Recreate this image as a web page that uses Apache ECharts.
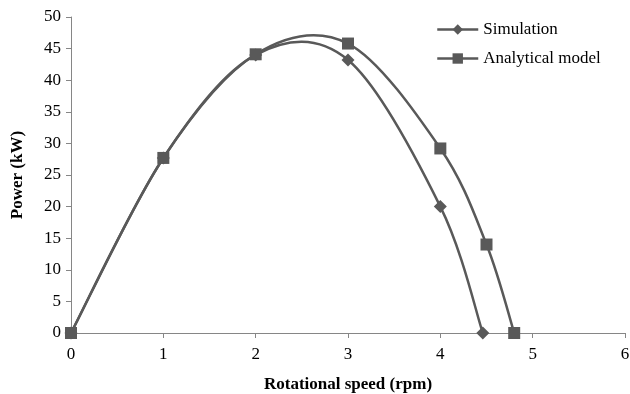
<!DOCTYPE html>
<html><head><meta charset="utf-8">
<script src="https://cdn.jsdelivr.net/npm/echarts@6/dist/echarts.min.js"></script>
<style>html,body{margin:0;padding:0;background:#fff}#c{width:630px;height:394px}</style>
</head><body><div id="c"></div>
<script>
const simX = [0, 1, 2, 3, 4, 4.46];
const simY = [0, 27.7, 44.0, 43.2, 20.0, 0];
const anaX = [0, 1, 2, 3, 4, 4.5, 4.8];
const anaY = [0, 27.7, 44.1, 45.8, 29.2, 14.0, 0];
const xTicks = [0, 1, 2, 3, 4, 5, 6];
const yTicks = [0, 5, 10, 15, 20, 25, 30, 35, 40, 45, 50];

const font = 'Liberation Serif, Times New Roman, serif';
const col = '#595959';

// Excel-like smoothed line (Catmull-Rom through the data points, converted by the chart's own scales)
function smoothPath(xs, ys) {
  return function (params, api) {
    if (params.dataIndex !== 0) return null;
    const p = xs.map((x, i) => api.coord([x, ys[i]]));
    const n = p.length;
    let d = 'M' + p[0][0] + ' ' + p[0][1];
    for (let i = 0; i < n - 1; i++) {
      const p0 = p[Math.max(i - 1, 0)], p1 = p[i], p2 = p[i + 1], p3 = p[Math.min(i + 2, n - 1)];
      const t = 6;
      const c1 = [p1[0] + (p2[0] - p0[0]) / t, p1[1] + (p2[1] - p0[1]) / t];
      const c2 = [p2[0] - (p3[0] - p1[0]) / t, p2[1] - (p3[1] - p1[1]) / t];
      d += ' C' + c1[0] + ' ' + c1[1] + ' ' + c2[0] + ' ' + c2[1] + ' ' + p2[0] + ' ' + p2[1];
    }
    return {
      type: 'path',
      shape: {pathData: d},
      style: {fill: null, stroke: col, lineWidth: 2.5}
    };
  };
}

const chart = echarts.init(document.getElementById('c'));
chart.setOption({
  animation: false,
  textStyle: {fontFamily: font},
  grid: {left: 71, right: 5, top: 17, bottom: 61, containLabel: false, outerBoundsMode: 'none'},
  legend: {
    orient: 'vertical', left: 431, top: 16, itemGap: 12, itemWidth: 41, itemHeight: 13,
    textStyle: {fontFamily: font, fontSize: 17, color: '#000'},
    lineStyle: {color: col, width: 2.5, opacity: 1},
    data: ['Simulation', 'Analytical model']
  },
  xAxis: {
    type: 'value', min: xTicks[0], max: xTicks[xTicks.length-1], interval: 1,
    name: 'Rotational speed (rpm)', nameLocation: 'middle', nameGap: 43,
    nameTextStyle: {fontFamily: font, fontSize: 17, fontWeight: 'bold', color: '#000'},
    axisLine: {lineStyle: {color: '#868686', width: 1}},
    axisTick: {show: true, length: 5, lineStyle: {color: '#868686'}},
    axisLabel: {fontFamily: font, fontSize: 17, color: '#000', margin: 13},
    splitLine: {show: false}
  },
  yAxis: {
    type: 'value', min: yTicks[0], max: yTicks[yTicks.length-1], interval: 5,
    name: 'Power (kW)', nameLocation: 'middle', nameGap: 45, nameRotate: 90,
    nameTextStyle: {fontFamily: font, fontSize: 17, fontWeight: 'bold', color: '#000'},
    axisLine: {show: true, lineStyle: {color: '#868686', width: 1}},
    axisTick: {show: true, length: 5, lineStyle: {color: '#868686'}},
    axisLabel: {fontFamily: font, fontSize: 17, color: '#000', margin: 10},
    splitLine: {show: false}
  },
  series: [
    {
      type: 'custom', name: 'simCurve', renderItem: smoothPath(simX, simY),
      data: simX.map((x, i) => [x, simY[i]]), silent: true, z: 1
    },
    {
      type: 'custom', name: 'anaCurve', renderItem: smoothPath(anaX, anaY),
      data: anaX.map((x, i) => [x, anaY[i]]), silent: true, z: 1
    },
    {
      name: 'Simulation', type: 'line',
      data: simX.map((x, i) => [x, simY[i]]),
      symbol: 'diamond', symbolSize: 13, showAllSymbol: true,
      lineStyle: {color: col, width: 0, opacity: 0},
      itemStyle: {color: col}, z: 3
    },
    {
      name: 'Analytical model', type: 'line',
      data: anaX.map((x, i) => [x, anaY[i]]),
      symbol: 'rect', symbolSize: 12, showAllSymbol: true,
      lineStyle: {color: col, width: 0, opacity: 0},
      itemStyle: {color: col}, z: 3
    }
  ]
});
</script></body></html>
